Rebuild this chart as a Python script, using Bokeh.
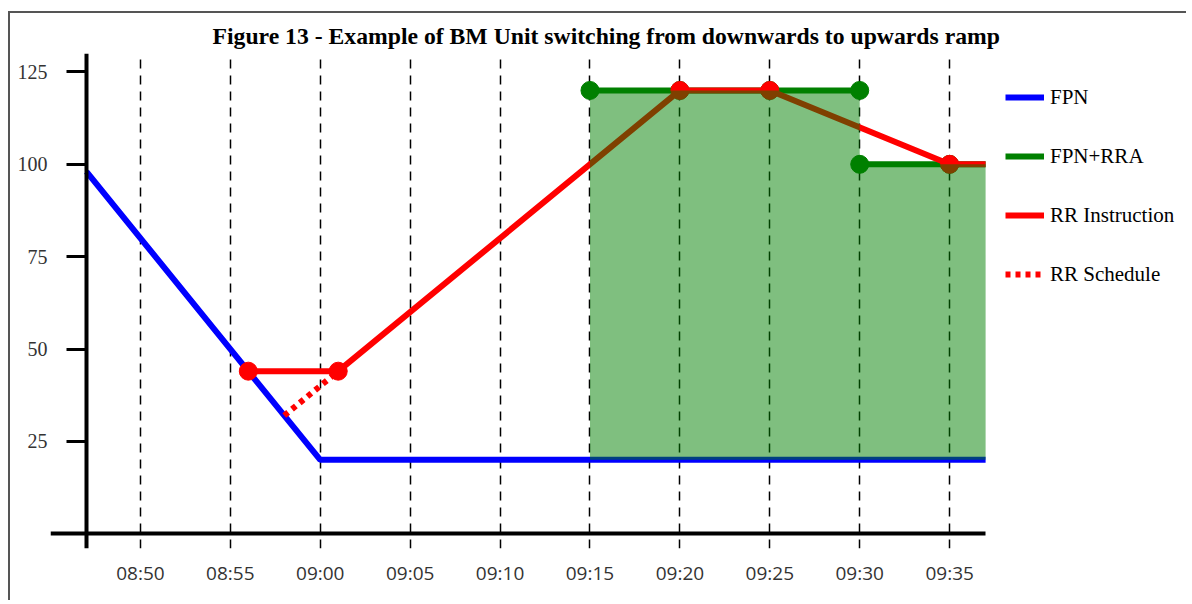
import pandas as pd
from bokeh.plotting import figure
from bokeh.models import (FixedTicker, DatetimeTickFormatter, Legend, LegendItem,
                          Range1d, LinearAxis, DatetimeAxis)
from bokeh.embed import file_html
from bokeh.resources import INLINE

# ---------------- data ----------------
DAY = "2024-01-01 "

title_text = "Figure 13 - Example of BM Unit switching from downwards to upwards ramp"

x_tick_labels = ["08:50", "08:55", "09:00", "09:05", "09:10",
                 "09:15", "09:20", "09:25", "09:30", "09:35"]
y_ticks = [25, 50, 75, 100, 125]
x_start, x_axis_end, x_view_end = "08:45", "09:37", "09:48:27"
y_start, y_end = -4, 130
y_axis_at = "08:47"

fpn_times = ["08:47", "09:00", "09:37"]
fpn_values = [98, 20, 20]

rr_instr_times = ["08:56", "09:01", "09:20", "09:25", "09:35", "09:37"]
rr_instr_values = [44, 44, 120, 120, 100, 100]
rr_instr_marker_times = ["08:56", "09:01", "09:20", "09:25", "09:35"]
rr_instr_marker_values = [44, 44, 120, 120, 100]

rr_sched_times = ["08:58", "09:01"]
rr_sched_values = [32, 44]

rra_upper_times = ["09:15", "09:20", "09:25", "09:30"]
rra_upper_values = [120, 120, 120, 120]
rra_lower_times = ["09:30", "09:35", "09:37"]
rra_lower_values = [100, 100, 100]
rra_marker_times = ["09:15", "09:20", "09:25", "09:30", "09:30", "09:35"]
rra_marker_values = [120, 120, 120, 120, 100, 100]

area_times = ["09:15", "09:30", "09:30", "09:37"]
area_top = [120, 120, 100, 100]
area_bottom = [20, 20, 20, 20]


def ts(lst):
    return [pd.Timestamp(DAY + s) for s in lst]


def ms(s):
    return pd.Timestamp(DAY + s).value / 1e6


# ---------------- figure ----------------
p = figure(width=1181, height=589, x_axis_type="datetime",
           x_range=Range1d(ms(x_start), ms(x_view_end)),
           y_range=Range1d(y_start, y_end),
           output_backend="svg", toolbar_location=None,
           min_border_left=40, min_border_right=0,
           min_border_top=40, min_border_bottom=54)
p.outline_line_color = None
p.background_fill_color = "white"
p.border_fill_color = "white"
p.styles = {"border-top": "2px solid #555555", "border-left": "2px solid #555555",
            "border-right": "0px none", "border-bottom": "0px none",
            "outline": "none", "box-shadow": "none",
            "clip-path": "inset(0px 3px 0px 0px)",
            "margin-top": "11px", "margin-left": "8px"}

p.title.text = title_text
p.title.text_font = "Liberation Serif"
p.title.text_font_style = "bold"
p.title.text_font_size = "23.7px"
p.title.align = "left"
p.title.offset = 162
p.title.text_color = "black"

x_ticker = FixedTicker(ticks=[ms(s) for s in x_tick_labels])
y_ticker = FixedTicker(ticks=y_ticks)
fmt = DatetimeTickFormatter(minutes="%H:%M", hours="%H:%M",
                            hourmin="%H:%M", minsec="%H:%M")

# label-only axes at the frame edges
xa = p.xaxis[0]
xa.ticker = x_ticker
xa.formatter = fmt
xa.axis_line_color = None
xa.major_tick_out = 0
xa.major_tick_in = 0
xa.minor_tick_out = 0
xa.minor_tick_in = 0
xa.major_label_text_font = "Open Sans"
xa.major_label_text_font_size = "19px"
xa.major_label_text_color = "#333333"
xa.major_label_standoff = 11

ya = p.yaxis[0]
ya.ticker = y_ticker
ya.axis_line_color = None
ya.major_tick_out = 0
ya.major_tick_in = 0
ya.minor_tick_out = 0
ya.minor_tick_in = 0
ya.major_label_text_font = "Liberation Serif"
ya.major_label_text_font_size = "20px"
ya.major_label_text_color = "#333333"
ya.major_label_standoff = 3

# line + tick axes crossing inside the frame
xa2 = DatetimeAxis(fixed_location=0, ticker=x_ticker, formatter=fmt,
                   bounds=(ms(x_start), ms(x_axis_end)),
                   axis_line_width=4, axis_line_color="black",
                   major_tick_line_color=None, minor_tick_line_color=None,
                   major_label_text_alpha=0)
p.add_layout(xa2, "below")
ya2 = LinearAxis(fixed_location=ms(y_axis_at), ticker=y_ticker,
                 axis_line_width=4, axis_line_color="black",
                 major_tick_out=20, major_tick_in=0, major_tick_line_width=3,
                 minor_tick_line_color=None, major_label_text_alpha=0)
p.add_layout(ya2, "left")

p.ygrid.grid_line_color = None
p.xgrid.ticker = x_ticker
p.xgrid.grid_line_color = "black"
p.xgrid.grid_line_width = 1.5
p.xgrid.grid_line_dash = "9 7"

# series
fpn = p.line(ts(fpn_times), fpn_values, line_color="#0000ff", line_width=6)
rra1 = p.line(ts(rra_upper_times), rra_upper_values, line_color="#008000", line_width=6)
p.line(ts(rra_lower_times), rra_lower_values, line_color="#008000", line_width=6)
p.scatter(ts(rra_marker_times), rra_marker_values, size=18, color="#008000")
rr = p.line(ts(rr_instr_times), rr_instr_values, line_color="#ff0000", line_width=6)
rrs = p.line(ts(rr_sched_times), rr_sched_values, line_color="#ff0000", line_width=6,
             line_dash="5 5")
p.scatter(ts(rr_instr_marker_times), rr_instr_marker_values, size=18, color="#ff0000")
p.varea(ts(area_times), area_bottom, area_top, fill_color="#008000", fill_alpha=0.5)

legend = Legend(items=[LegendItem(label="FPN", renderers=[fpn]),
                       LegendItem(label="FPN+RRA", renderers=[rra1]),
                       LegendItem(label="RR Instruction", renderers=[rr]),
                       LegendItem(label="RR Schedule", renderers=[rrs])],
                location=(955, 259), margin=0, padding=0,
                glyph_width=39, glyph_height=30, label_height=30,
                label_standoff=6, spacing=29,
                border_line_color=None, background_fill_alpha=0,
                label_text_font="Liberation Serif", label_text_font_size="21px",
                label_text_color="black")
p.add_layout(legend)

open("out.html", "w").write(file_html(p, INLINE))
